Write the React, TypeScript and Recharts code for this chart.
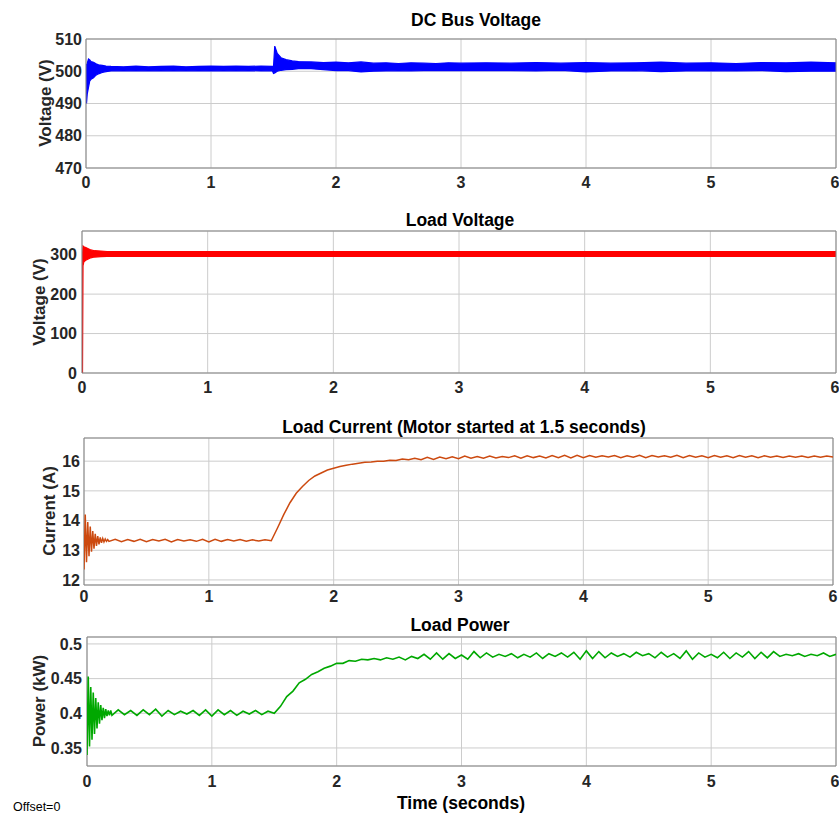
import React from 'react';
import { ComposedChart, LineChart, Line, Area, XAxis, YAxis, CartesianGrid, ReferenceArea } from 'recharts';

// ---------- DC bus voltage (band envelope, V) ----------
const dcTime = [
  0, 0.004, 0.01, 0.02, 0.03, 0.04, 0.06, 0.08, 0.1, 0.13,
  0.16, 0.2, 0.3, 0.4, 0.5, 0.6, 0.7, 0.8, 0.9, 1.0,
  1.1, 1.2, 1.3, 1.4, 1.49, 1.5, 1.51, 1.53, 1.56, 1.6,
  1.65, 1.7, 1.8, 1.9, 2.0, 2.1, 2.2, 2.3, 2.4, 2.5,
  2.6, 2.7, 2.8, 2.9, 3.0, 3.2, 3.4, 3.6, 3.8, 4.0,
  4.2, 4.4, 4.6, 4.8, 5.0, 5.2, 5.4, 5.6, 5.8, 6.0,
];
const dcLow = [
  499, 490, 493, 495, 497, 497.5, 498, 498.8, 499.2, 499.6,
  499.9, 500.1, 500.2, 500.1, 500.2, 500.1, 500.2, 500.1, 500.2, 500.1,
  500.2, 500.1, 500.2, 500.1, 500.2, 499.3, 499.5, 500, 500.3, 500.5,
  500.6, 500.8, 500.8, 500.5, 500.2, 500.2, 499.8, 500, 500.1, 500.2,
  500.1, 500.2, 500.3, 500.2, 500.2, 500.3, 500.2, 500.1, 500.3, 499.8,
  500.1, 500.2, 499.9, 500.1, 500.2, 500.1, 500.2, 499.9, 500, 500,
];
const dcHigh = [
  501.5, 502, 502.5, 503.8, 503.5, 503, 502.8, 502.3, 502, 501.8,
  501.6, 501.5, 501.4, 501.6, 501.4, 501.5, 501.6, 501.4, 501.5, 501.6,
  501.5, 501.6, 501.5, 501.6, 501.5, 501.5, 507.8, 505.5, 504.2, 503.6,
  503.2, 503, 502.9, 502.7, 502.8, 502.6, 502.9, 502.5, 502.6, 502.4,
  502.6, 502.5, 502.4, 502.6, 502.5, 502.6, 502.5, 502.7, 502.5, 502.7,
  502.5, 502.6, 502.8, 502.5, 502.6, 502.4, 502.7, 502.6, 502.8, 502.6,
];

// ---------- Load voltage (band envelope, V) ----------
const lvTime = [0, 0.004, 0.008, 0.015, 0.03, 0.05, 0.07, 0.1, 0.15, 0.2, 0.5, 1, 2, 3, 4, 5, 6];
const lvLow = [0, 0, 272, 282, 286, 289, 292, 294, 295, 295.5, 295.5, 295.5, 295.5, 295.5, 295.5, 295.5, 295.5];
const lvHigh = [0, 300, 322, 320, 318, 315, 312, 310, 309, 308, 308, 308, 308, 308, 308, 308, 308];

// ---------- Time samples for current / power ----------
const timeStart = [0, 0.01, 0.02, 0.03, 0.04, 0.05, 0.06, 0.07, 0.08, 0.09, 0.1, 0.11, 0.12, 0.13, 0.14, 0.15, 0.16, 0.17, 0.18, 0.19];
const timeBase = [
  0.2, 0.25, 0.3, 0.35, 0.4, 0.45, 0.5, 0.55, 0.6, 0.65,
  0.7, 0.75, 0.8, 0.85, 0.9, 0.95, 1.0, 1.05, 1.1, 1.15,
  1.2, 1.25, 1.3, 1.35, 1.4, 1.45, 1.5,
];
const timeMotor = [
  1.55, 1.6, 1.65, 1.7, 1.75, 1.8, 1.85, 1.9, 1.95, 2.0,
  2.05, 2.1, 2.15, 2.2, 2.25, 2.3, 2.35, 2.4, 2.45, 2.5,
  2.55, 2.6, 2.65, 2.7, 2.75, 2.8, 2.85, 2.9, 2.95, 3.0,
  3.05, 3.1, 3.15, 3.2, 3.25, 3.3, 3.35, 3.4, 3.45, 3.5,
  3.55, 3.6, 3.65, 3.7, 3.75, 3.8, 3.85, 3.9, 3.95, 4.0,
  4.05, 4.1, 4.15, 4.2, 4.25, 4.3, 4.35, 4.4, 4.45, 4.5,
  4.55, 4.6, 4.65, 4.7, 4.75, 4.8, 4.85, 4.9, 4.95, 5.0,
  5.05, 5.1, 5.15, 5.2, 5.25, 5.3, 5.35, 5.4, 5.45, 5.5,
  5.55, 5.6, 5.65, 5.7, 5.75, 5.8, 5.85, 5.9, 5.95, 6.0,
];

// ---------- Load current (A) ----------
const currentStart = [12.35, 14.2, 12.6, 13.95, 12.8, 13.8, 12.95, 13.65, 13.05, 13.55, 13.15, 13.48, 13.2, 13.43, 13.25, 13.4, 13.28, 13.38, 13.3, 13.36];
const currentBase = [
  13.30, 13.37, 13.29, 13.36, 13.30, 13.37, 13.29, 13.36, 13.31, 13.37,
  13.28, 13.36, 13.31, 13.35, 13.30, 13.37, 13.28, 13.37, 13.30, 13.36,
  13.31, 13.36, 13.30, 13.35, 13.31, 13.35, 13.32,
];
const currentMotor = [
  13.75, 14.2, 14.6, 14.92, 15.15, 15.35, 15.5, 15.6, 15.7, 15.76,
  15.82, 15.86, 15.9, 15.93, 15.96, 15.97, 16.0, 16.0, 16.03, 16.02,
  16.07, 16.05, 16.1, 16.05, 16.13, 16.06, 16.14, 16.08, 16.15, 16.08,
  16.17, 16.1, 16.16, 16.1, 16.17, 16.11, 16.16, 16.12, 16.18, 16.1,
  16.18, 16.12, 16.17, 16.11, 16.19, 16.12, 16.2, 16.11, 16.2, 16.12,
  16.19, 16.13, 16.18, 16.14, 16.19, 16.12, 16.18, 16.13, 16.2, 16.12,
  16.19, 16.14, 16.18, 16.13, 16.2, 16.12, 16.19, 16.13, 16.18, 16.12,
  16.19, 16.13, 16.18, 16.12, 16.19, 16.13, 16.18, 16.12, 16.18, 16.13,
  16.17, 16.12, 16.17, 16.13, 16.17, 16.12, 16.17, 16.13, 16.17, 16.14,
];

// ---------- Load power (kW) ----------
const powerStart = [0.34, 0.453, 0.352, 0.438, 0.362, 0.43, 0.37, 0.422, 0.378, 0.416, 0.385, 0.412, 0.39, 0.408, 0.393, 0.406, 0.396, 0.404, 0.397, 0.404];
const powerBase = [
  0.397, 0.405, 0.398, 0.404, 0.397, 0.405, 0.398, 0.406, 0.396, 0.404,
  0.398, 0.403, 0.399, 0.404, 0.397, 0.405, 0.396, 0.405, 0.398, 0.404,
  0.397, 0.403, 0.399, 0.404, 0.398, 0.403, 0.400,
];
const powerMotor = [
  0.41, 0.424, 0.432, 0.444, 0.449, 0.456, 0.46, 0.465, 0.468, 0.472,
  0.472, 0.476, 0.475, 0.478, 0.477, 0.479, 0.477, 0.48, 0.478, 0.481,
  0.477, 0.482, 0.479, 0.485, 0.478, 0.487, 0.478, 0.486, 0.479, 0.484,
  0.478, 0.489, 0.48, 0.487, 0.481, 0.485, 0.482, 0.486, 0.48, 0.485,
  0.481, 0.487, 0.479, 0.486, 0.482, 0.487, 0.481, 0.488, 0.478, 0.49,
  0.479, 0.489, 0.48, 0.487, 0.482, 0.486, 0.481, 0.488, 0.483, 0.486,
  0.48, 0.488, 0.481, 0.486, 0.479, 0.49, 0.478, 0.487, 0.481, 0.485,
  0.48, 0.488, 0.479, 0.487, 0.481, 0.489, 0.479, 0.488, 0.48, 0.489,
  0.482, 0.485, 0.483, 0.486, 0.482, 0.485, 0.483, 0.487, 0.482, 0.485,
];

// ---------- Axis ticks ----------
const timeTicks = [0, 1, 2, 3, 4, 5, 6];
const dcTicks = [470, 480, 490, 500, 510];
const lvTicks = [0, 100, 200, 300];
const currentTicks = [12, 13, 14, 15, 16];
const powerTicks = [0.35, 0.4, 0.45, 0.5];

// ---------- Build tables ----------
const dcData = dcTime.map((t, i) => ({ t, band: [dcLow[i], dcHigh[i]] }));
const lvData = lvTime.map((t, i) => ({ t, band: [lvLow[i], lvHigh[i]] }));
const allTime = [...timeStart, ...timeBase, ...timeMotor];
const allCurrent = [...currentStart, ...currentBase, ...currentMotor];
const allPower = [...powerStart, ...powerBase, ...powerMotor];
const ciData = allTime.map((t, i) => ({ t, v: allCurrent[i] }));
const pwData = allTime.map((t, i) => ({ t, v: allPower[i] }));

const FONT = '"Liberation Sans", Arial, Helvetica, sans-serif';
const TXT = '#262626';
const GRID = '#cccccc';
const BOX = '#858585';

const tickStyle = { fill: TXT, fontSize: 16, fontWeight: 700, fontFamily: FONT };

function Title({ x, y, text, size = 17.5 }: { x: number; y: number; text: string; size?: number }) {
  return (
    <div style={{ position: 'absolute', left: x, top: y, transform: 'translate(-50%,-50%)', whiteSpace: 'nowrap', fontFamily: FONT, fontWeight: 700, fontSize: size, color: '#000', zIndex: 2 }}>
      {text}
    </div>
  );
}

function VLabel({ x, y, text }: { x: number; y: number; text: string }) {
  return (
    <div style={{ position: 'absolute', left: x, top: y, transform: 'translate(-50%,-50%) rotate(-90deg)', whiteSpace: 'nowrap', fontFamily: FONT, fontWeight: 700, fontSize: 17, color: TXT, zIndex: 2 }}>
      {text}
    </div>
  );
}

export default function App() {
  return (
    <div style={{ position: 'absolute', left: 0, top: 0, width: 839, height: 814, background: '#fff', overflow: 'hidden' }}>
      {/* Chart 1: DC Bus Voltage  (plot 86..836 x 39..168) */}
      <div style={{ position: 'absolute', left: 0, top: 30 }}>
        <ComposedChart width={839} height={170} data={dcData} margin={{ top: 9, right: 3, bottom: 0, left: 0 }}>
          <CartesianGrid stroke={GRID} strokeWidth={1} />
          <XAxis dataKey="t" type="number" domain={[0, 6]} ticks={timeTicks} height={32} tickSize={0} tickMargin={9} axisLine={false} tickLine={false} tick={tickStyle} allowDataOverflow />
          <YAxis type="number" domain={[470, 510]} ticks={dcTicks} width={86} tickSize={0} tickMargin={4} axisLine={false} tickLine={false} tick={tickStyle} allowDataOverflow />
          <Area dataKey="band" type="linear" stroke="#0000ff" strokeWidth={1.2} fill="#0000ff" fillOpacity={1} isAnimationActive={false} dot={false} activeDot={false} />
          <ReferenceArea x1={0} x2={6} y1={470} y2={510} fill="none" fillOpacity={0} stroke={BOX} strokeWidth={1} />
        </ComposedChart>
      </div>

      {/* Chart 2: Load Voltage  (plot 82..836 x 231..373) */}
      <div style={{ position: 'absolute', left: 0, top: 225 }}>
        <ComposedChart width={839} height={185} data={lvData} margin={{ top: 6, right: 3, bottom: 0, left: 0 }}>
          <CartesianGrid stroke={GRID} strokeWidth={1} />
          <XAxis dataKey="t" type="number" domain={[0, 6]} ticks={timeTicks} height={37} tickSize={0} tickMargin={9} axisLine={false} tickLine={false} tick={tickStyle} allowDataOverflow />
          <YAxis type="number" domain={[0, 360]} ticks={lvTicks} width={82} tickSize={0} tickMargin={5} axisLine={false} tickLine={false} tick={tickStyle} allowDataOverflow />
          <Area dataKey="band" type="linear" stroke="#ff0000" strokeWidth={1.2} fill="#ff0000" fillOpacity={1} isAnimationActive={false} dot={false} activeDot={false} />
          <ReferenceArea x1={0} x2={6} y1={0} y2={360} fill="none" fillOpacity={0} stroke={BOX} strokeWidth={1} />
        </ComposedChart>
      </div>

      {/* Chart 3: Load Current  (plot 84..833 x 438..585) */}
      <div style={{ position: 'absolute', left: 0, top: 432 }}>
        <LineChart width={839} height={181} data={ciData} margin={{ top: 6, right: 6, bottom: 0, left: 0 }}>
          <CartesianGrid stroke={GRID} strokeWidth={1} />
          <XAxis dataKey="t" type="number" domain={[0, 6]} ticks={timeTicks} height={28} tickSize={0} tickMargin={6} axisLine={false} tickLine={false} tick={tickStyle} allowDataOverflow />
          <YAxis type="number" domain={[11.83, 16.78]} ticks={currentTicks} width={84} tickSize={0} tickMargin={4} axisLine={false} tickLine={false} tick={tickStyle} allowDataOverflow />
          <Line dataKey="v" type="linear" stroke="#cc4a10" strokeWidth={1.5} dot={false} activeDot={false} isAnimationActive={false} />
          <ReferenceArea x1={0} x2={6} y1={11.83} y2={16.78} fill="none" fillOpacity={0} stroke={BOX} strokeWidth={1} />
        </LineChart>
      </div>

      {/* Chart 4: Load Power  (plot 87..836 x 637..766) */}
      <div style={{ position: 'absolute', left: 0, top: 630 }}>
        <LineChart width={839} height={165} data={pwData} margin={{ top: 7, right: 3, bottom: 0, left: 0 }}>
          <CartesianGrid stroke={GRID} strokeWidth={1} />
          <XAxis dataKey="t" type="number" domain={[0, 6]} ticks={timeTicks} height={29} tickSize={0} tickMargin={10} axisLine={false} tickLine={false} tick={tickStyle} allowDataOverflow />
          <YAxis type="number" domain={[0.324, 0.51]} ticks={powerTicks} width={87} tickSize={0} tickMargin={5} axisLine={false} tickLine={false} tick={tickStyle} allowDataOverflow />
          <Line dataKey="v" type="linear" stroke="#00a800" strokeWidth={1.6} dot={false} activeDot={false} isAnimationActive={false} />
          <ReferenceArea x1={0} x2={6} y1={0.324} y2={0.51} fill="none" fillOpacity={0} stroke={BOX} strokeWidth={1} />
        </LineChart>
      </div>

      <Title x={476} y={20} text="DC Bus Voltage" />
      <Title x={460} y={220} text="Load Voltage" />
      <Title x={464} y={427} text="Load Current (Motor started at 1.5 seconds)" />
      <Title x={460} y={625} text="Load Power" />
      <Title x={461} y={803} text="Time (seconds)" />

      <VLabel x={46} y={103} text="Voltage (V)" />
      <VLabel x={40} y={302} text="Voltage (V)" />
      <VLabel x={50} y={511} text="Current (A)" />
      <VLabel x={40} y={701} text="Power (kW)" />

      <div style={{ position: 'absolute', left: 13, top: 800, fontFamily: FONT, fontSize: 12.5, color: '#000', whiteSpace: 'nowrap' }}>Offset=0</div>
    </div>
  );
}
